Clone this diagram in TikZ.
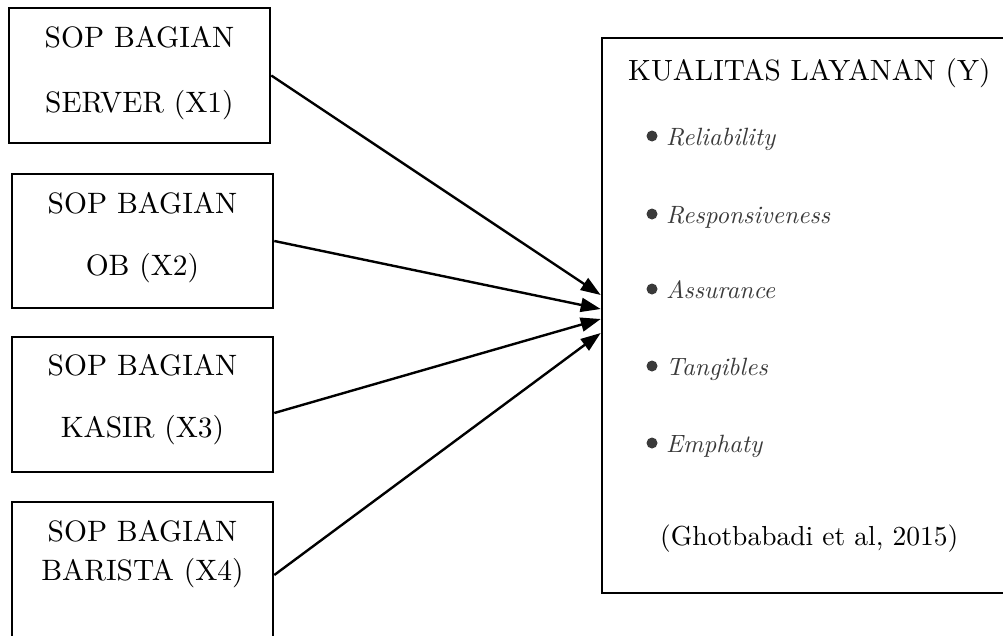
\documentclass[tikz,border=0pt]{standalone}
\usepackage{fontspec}
\setmainfont{lmroman10-regular.otf}[ItalicFont=lmroman10-italic.otf]
\usetikzlibrary{arrows.meta}
\definecolor{itemgray}{HTML}{3A3A3A}
\begin{document}
\begin{tikzpicture}[x=1pt,y=-1pt,
  box/.style={draw, line width=2.6pt, minimum width=261pt, align=center, inner sep=0pt},
  titlefont/.style={font=\fontsize{29.3}{34}\selectfont},
  itm/.style={anchor=base west, inner sep=0pt, text=itemgray, font=\fontsize{25}{30}\selectfont\itshape},
  dot/.style={circle, fill=itemgray, inner sep=0pt, minimum size=11pt},
  arr/.style={-{Triangle[length=20pt,width=14pt]}, line width=2.4pt}]
\useasboundingbox (0,0) rectangle (1003,635);
\clip (0,0) rectangle (1003,635);

\node[box, minimum height=135pt, text height=85pt, text depth=12pt, font=\fontsize{29.5}{65}\selectfont] (b1) at (139.5,75.5) {SOP BAGIAN\\SERVER (X1)};
\node[box, minimum height=134pt, text height=82pt, text depth=14pt, font=\fontsize{29.5}{62}\selectfont] (b2) at (142.5,241) {SOP BAGIAN\\OB (X2)};
\node[box, minimum height=135pt, text height=82pt, text depth=17pt, font=\fontsize{29.5}{62}\selectfont] (b3) at (142.5,404.5) {SOP BAGIAN\\KASIR (X3)};
\node[box, minimum height=146pt, text height=59pt, text depth=49pt, font=\fontsize{29.5}{39}\selectfont] (b4) at (142.5,575) {SOP BAGIAN\\BARISTA (X4)};

\node[draw, line width=2.6pt, minimum width=418pt, minimum height=555pt, inner sep=0pt] (y) at (811,315.5) {};

\node[anchor=base west, inner sep=0pt, titlefont] (t) at (628,80) {KUALITAS LAYANAN (Y)};
\node[dot] (d1) at (652,136) {};
\node[itm] (i1) at (666,145) {Reliability};
\node[dot] (d2) at (652,214) {};
\node[itm] (i2) at (666,223) {Responsiveness};
\node[dot] (d3) at (652,289) {};
\node[itm] (i3) at (666,298) {Assurance};
\node[dot] (d4) at (652,366) {};
\node[itm] (i4) at (666,375) {Tangibles};
\node[dot] (d5) at (652,443) {};
\node[itm] (i5) at (666,452) {Emphaty};
\node[anchor=base west, inner sep=0pt, font=\fontsize{27.5}{33}\selectfont] (c) at (660,545) {(Ghotbabadi et al, 2015)};

\draw[arr] (b1.east) -- ([yshift=20.5pt]y.west);
\draw[arr] (b2.east) -- ([yshift=6.5pt]y.west);
\draw[arr] ([yshift=-8.5pt]b3.east) -- ([yshift=-3.5pt]y.west);
\draw[arr] (b4.east) -- ([yshift=-17.5pt]y.west);
\end{tikzpicture}
\end{document}
